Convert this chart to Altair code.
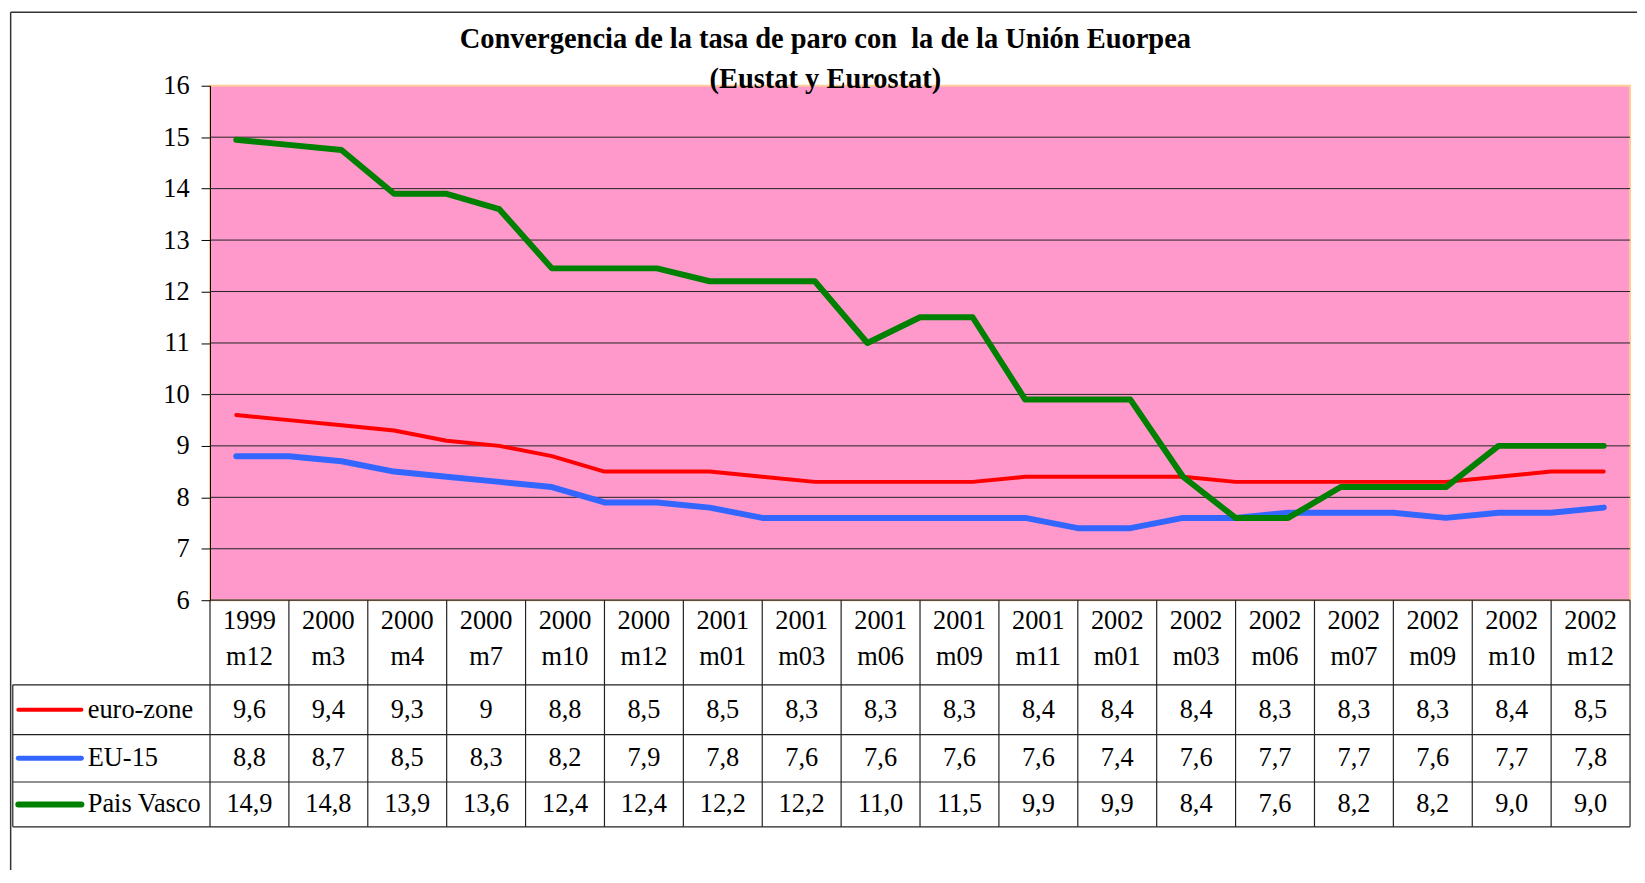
import altair as alt
import pandas as pd

# ---------------- data ----------------
TITLE_LINES = ["Convergencia de la tasa de paro con\u00a0 la de la Unión Euorpea",
               "(Eustat y Eurostat)"]
SERIES = ["euro-zone", "EU-15", "Pais Vasco"]

# plotted lines (27 points each)
line_euro_zone = [9.6, 9.5, 9.4, 9.3, 9.1, 9.0, 8.8, 8.5, 8.5, 8.5, 8.4, 8.3, 8.3, 8.3,
                  8.3, 8.4, 8.4, 8.4, 8.4, 8.3, 8.3, 8.3, 8.3, 8.3, 8.4, 8.5, 8.5]
line_eu15 = [8.8, 8.8, 8.7, 8.5, 8.4, 8.3, 8.2, 7.9, 7.9, 7.8, 7.6, 7.6, 7.6, 7.6,
             7.6, 7.6, 7.4, 7.4, 7.6, 7.6, 7.7, 7.7, 7.7, 7.6, 7.7, 7.7, 7.8]
line_pais_vasco = [14.95, 14.85, 14.75, 13.9, 13.9, 13.6, 12.45, 12.45, 12.45, 12.2, 12.2,
                   12.2, 11.0, 11.5, 11.5, 9.9, 9.9, 9.9, 8.4, 7.6, 7.6, 8.2, 8.2, 8.2,
                   9.0, 9.0, 9.0]

# data table below the chart
table_years = ["1999", "2000", "2000", "2000", "2000", "2000", "2001", "2001", "2001",
               "2001", "2001", "2002", "2002", "2002", "2002", "2002", "2002", "2002"]
table_months = ["m12", "m3", "m4", "m7", "m10", "m12", "m01", "m03", "m06",
                "m09", "m11", "m01", "m03", "m06", "m07", "m09", "m10", "m12"]
table_euro_zone = [9.6, 9.4, 9.3, 9, 8.8, 8.5, 8.5, 8.3, 8.3, 8.3, 8.4, 8.4, 8.4, 8.3,
                   8.3, 8.3, 8.4, 8.5]
table_eu15 = [8.8, 8.7, 8.5, 8.3, 8.2, 7.9, 7.8, 7.6, 7.6, 7.6, 7.6, 7.4, 7.6, 7.7,
              7.7, 7.6, 7.7, 7.8]
table_pais_vasco = [14.9, 14.8, 13.9, 13.6, 12.4, 12.4, 12.2, 12.2, 11.0, 11.5, 9.9,
                    9.9, 8.4, 7.6, 8.2, 8.2, 9.0, 9.0]

# ---------------- style / layout ----------------
COLORS = ["#FF0000", "#3366FF", "#008000"]
WIDTHS = [4, 6, 6]
FONT = "Liberation Serif"
PINK = "#FF99CC"
TAN = "#FFCC99"
INK = "#222222"
W, H = 1427, 517
Y_DOM = [6, 16]
N_COLS = len(table_years)
N_PTS = len(line_euro_zone)
ROW_EDGES = [6.0, 4.355, 3.387, 2.466, 1.595]   # table row borders, in y units
HEAD_Y = [5.587, 4.89]                          # two header text lines
LEG_LEFT = -2.5                                 # legend column left border (table x units)
SW_X = (-2.43, -1.63)                           # legend swatch extent
LAB_X = -1.55                                   # legend label start
FRAME = dict(x=-2.527, top=17.43, bottom=0.7, right=18.3)
TITLE_X = 7.8
TITLE_Y = [16.73, 15.955]

xt = alt.Scale(domain=[0, N_COLS], nice=False, zero=False)
xl = alt.Scale(domain=[-0.5, N_PTS - 0.5], nice=False, zero=False)
ys = alt.Scale(domain=Y_DOM, nice=False, zero=False)


def fmt(v, one_decimal):
    s = f"{v:.1f}" if one_decimal else f"{v:g}"
    return s.replace(".", ",")


# ---------------- frames ----------------
df_grid = pd.DataFrame({"y": list(range(7, 16)), "x0": 0, "x1": N_COLS})

line_values = [line_euro_zone, line_eu15, line_pais_vasco]
table_values = [table_euro_zone, table_eu15, table_pais_vasco]

row_centers = [(ROW_EDGES[i + 1] + ROW_EDGES[i + 2]) / 2 for i in range(3)]

hl = [{"y": ROW_EDGES[0], "x0": 0, "x1": N_COLS}]
for e in ROW_EDGES[1:]:
    hl.append({"y": e, "x0": LEG_LEFT, "x1": N_COLS})
df_h = pd.DataFrame(hl)

vl = [{"x": c, "y0": ROW_EDGES[0], "y1": ROW_EDGES[-1]} for c in range(N_COLS + 1)]
vl.append({"x": LEG_LEFT, "y0": ROW_EDGES[1], "y1": ROW_EDGES[-1]})
df_v = pd.DataFrame(vl)

head = []
for c, (yr, mo) in enumerate(zip(table_years, table_months)):
    head.append({"x": c + 0.5, "y": HEAD_Y[0], "t": yr})
    head.append({"x": c + 0.5, "y": HEAD_Y[1], "t": mo})
df_head = pd.DataFrame(head)

cells = []
for si, vals in enumerate(table_values):
    for c, v in enumerate(vals):
        cells.append({"x": c + 0.5, "y": row_centers[si], "t": fmt(v, si == 2)})
df_cells = pd.DataFrame(cells)

df_leg = pd.DataFrame({"series": SERIES, "x0": SW_X[0], "x1": SW_X[1],
                       "xl": LAB_X, "y": row_centers})

df_frame_v = pd.DataFrame({"x": [FRAME["x"]], "y0": [FRAME["top"]], "y1": [FRAME["bottom"]]})
df_frame_h = pd.DataFrame({"y": [FRAME["top"]], "x0": [FRAME["x"]], "x1": [FRAME["right"]]})
df_title = pd.DataFrame({"x": TITLE_X, "y": TITLE_Y, "t": TITLE_LINES})

# ---------------- layers ----------------
yaxis = alt.Axis(values=list(range(6, 17)), format="d", tickSize=9, tickColor="black",
                 tickWidth=1, domainColor="black", domainWidth=1, labelFont=FONT,
                 labelFontSize=26.5, labelColor="black", labelPadding=12, grid=False,
                 title=None)

grid = alt.Chart(df_grid).mark_rule(color=INK, strokeWidth=1).encode(
    x=alt.X("x0:Q", scale=xt, axis=None), x2="x1:Q",
    y=alt.Y("y:Q", scale=ys, axis=yaxis))

lines = []
for name, vals, col, w in zip(SERIES, line_values, COLORS, WIDTHS):
    d = pd.DataFrame({"j": list(range(len(vals))), "v": vals, "series": name})
    lines.append(alt.Chart(d).mark_line(color=col, strokeWidth=w, strokeCap="round",
                                        strokeJoin="round").encode(
        x=alt.X("j:Q", scale=xl, axis=None),
        y=alt.Y("v:Q", scale=ys, axis=None)))

hrules = alt.Chart(df_h).mark_rule(color=INK, strokeWidth=1.2).encode(
    x=alt.X("x0:Q", scale=xt, axis=None), x2="x1:Q",
    y=alt.Y("y:Q", scale=ys, axis=None))
vrules = alt.Chart(df_v).mark_rule(color=INK, strokeWidth=1.2).encode(
    x=alt.X("x:Q", scale=xt, axis=None),
    y=alt.Y("y0:Q", scale=ys, axis=None), y2="y1:Q")

txt = dict(font=FONT, fontSize=26.5, color="black", baseline="middle")
head_t = alt.Chart(df_head).mark_text(align="center", **txt).encode(
    x=alt.X("x:Q", scale=xt, axis=None), y=alt.Y("y:Q", scale=ys, axis=None), text="t:N")
cell_t = alt.Chart(df_cells).mark_text(align="center", **txt).encode(
    x=alt.X("x:Q", scale=xt, axis=None), y=alt.Y("y:Q", scale=ys, axis=None), text="t:N")

cscale = alt.Scale(domain=SERIES, range=COLORS)
wscale = alt.Scale(domain=SERIES, range=WIDTHS)
swatch = alt.Chart(df_leg).mark_rule(strokeCap="round").encode(
    x=alt.X("x0:Q", scale=xt, axis=None), x2="x1:Q",
    y=alt.Y("y:Q", scale=ys, axis=None),
    color=alt.Color("series:N", scale=cscale, legend=None),
    strokeWidth=alt.StrokeWidth("series:N", scale=wscale, legend=None))
leg_t = alt.Chart(df_leg).mark_text(align="left", **txt).encode(
    x=alt.X("xl:Q", scale=xt, axis=None), y=alt.Y("y:Q", scale=ys, axis=None),
    text="series:N")

frame_v = alt.Chart(df_frame_v).mark_rule(color="#333333", strokeWidth=1.5).encode(
    x=alt.X("x:Q", scale=xt, axis=None),
    y=alt.Y("y0:Q", scale=ys, axis=None), y2="y1:Q")
frame_h = alt.Chart(df_frame_h).mark_rule(color="#333333", strokeWidth=1.5).encode(
    x=alt.X("x0:Q", scale=xt, axis=None), x2="x1:Q",
    y=alt.Y("y:Q", scale=ys, axis=None))

title_t = alt.Chart(df_title).mark_text(align="center", baseline="alphabetic", font=FONT,
                                        fontSize=28.6, fontWeight="bold", color="black").encode(
    x=alt.X("x:Q", scale=xt, axis=None), y=alt.Y("y:Q", scale=ys, axis=None), text="t:N")

chart = alt.layer(
    grid, *lines, hrules, vrules, head_t, cell_t, swatch, leg_t, frame_v, frame_h, title_t
).resolve_scale(x="independent", y="independent").properties(
    width=W, height=H,
    autosize=alt.AutoSizeParams(type="none"),
    padding={"left": 203, "top": 76, "right": 7, "bottom": 269},
    background="white",
).configure_view(fill=PINK, stroke=TAN, strokeWidth=2).configure_axis(
    labelFont=FONT, labelFontSize=26.5, labelColor="black")

chart.save("out.html", embed_options={"renderer": "svg", "actions": False})
